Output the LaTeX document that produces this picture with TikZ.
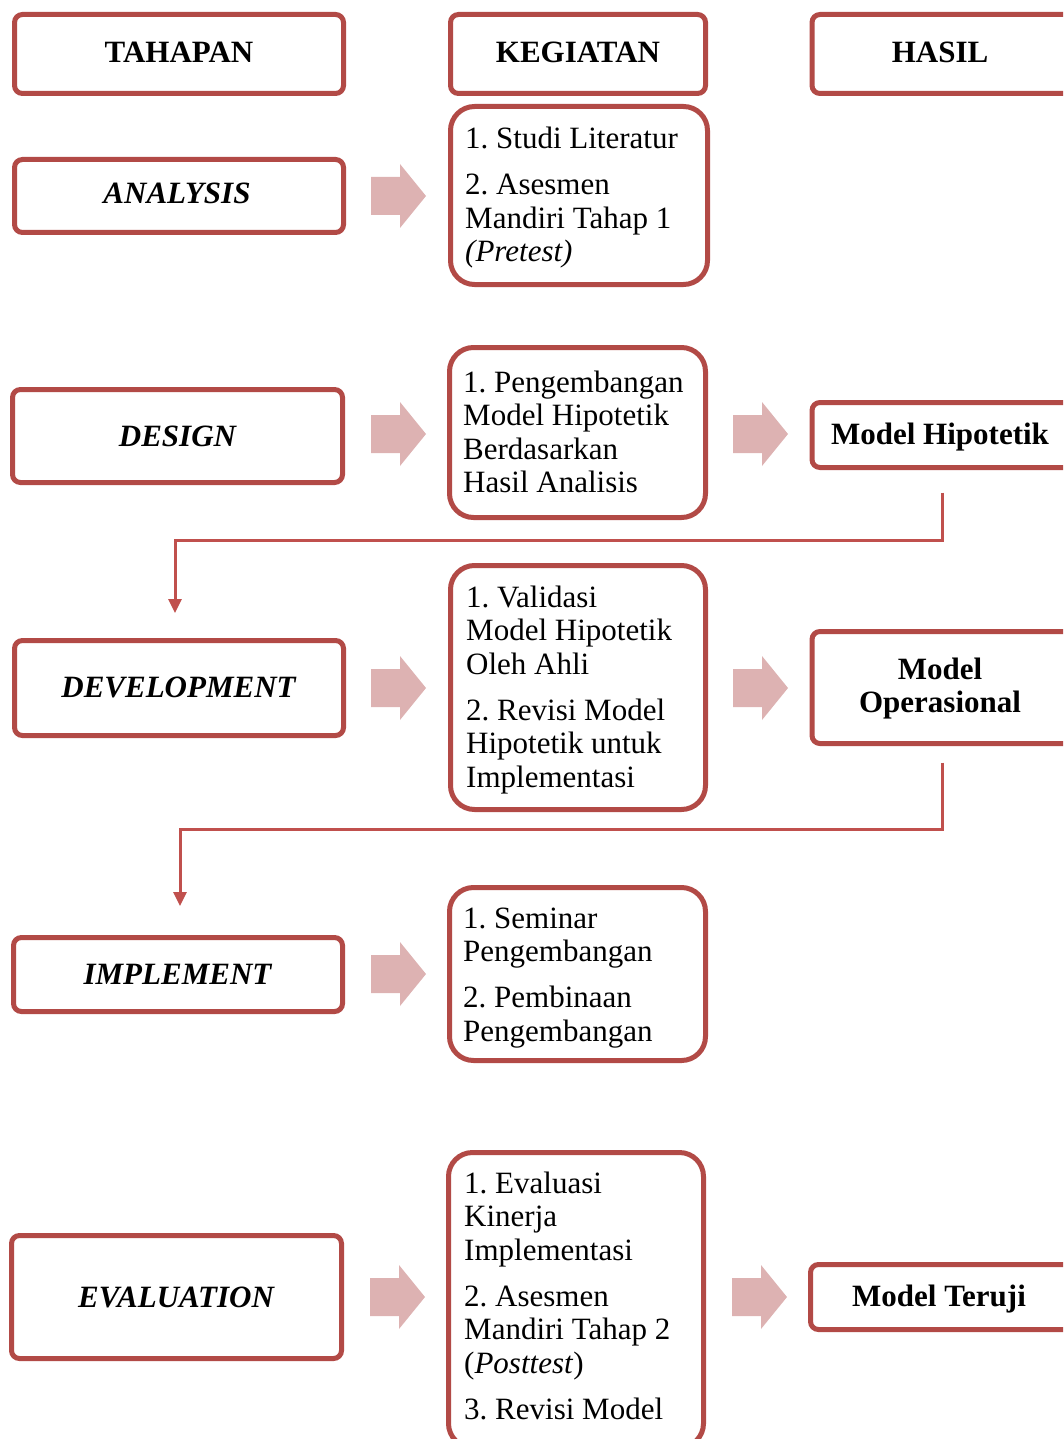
\documentclass[tikz,border=0pt]{standalone}
\usepackage{fontspec}
\setmainfont{Liberation Serif}
\usetikzlibrary{arrows.meta}
\definecolor{bord}{RGB}{178,74,70}
\definecolor{connc}{RGB}{192,80,77}
\definecolor{pinkarr}{RGB}{221,178,178}
\frenchspacing
\begin{document}
\begin{tikzpicture}[x=1pt,y=-1pt,
 box/.style={draw=bord,line width=5pt,rounded corners=8pt,fill=white,inner sep=0pt},
 kbox/.style={box,rounded corners=24pt},
 btxt/.style={font=\fontsize{31}{34}\selectfont\bfseries,anchor=base,inner sep=0pt},
 itxt/.style={font=\fontsize{31}{34}\selectfont\bfseries\itshape,anchor=base,inner sep=0pt},
 ltxt/.style={font=\fontsize{31}{33.5}\selectfont,align=left,anchor=north west,inner sep=0pt},
 connector/.style={draw=connc,line width=3pt,-{Triangle[width=13pt,length=14pt]}},
 barrow/.pic={\fill[pinkarr] (0,-19) -- (29,-19) -- (29,-32) -- (55,0) -- (29,32) -- (29,19) -- (0,19) -- cycle;}
]
\useasboundingbox (0,0) rectangle (1063,1439);
\clip (0,0) rectangle (1063,1439);

% headers
\node[box,minimum width=329pt,minimum height=79pt] (tah) at (179,54) {};
\node[box,minimum width=255pt,minimum height=79pt] (keg) at (578,54) {};
\node[box,minimum width=260pt,minimum height=79pt] (has) at (942,54) {};
\node[btxt] (tahT) at (179,63) {TAHAPAN};
\node[btxt] (kegT) at (578,63) {KEGIATAN};
\node[btxt] (hasT) at (940,63) {HASIL};

% column 1
\node[box,minimum width=329pt,minimum height=73pt] (ana) at (179,196) {};
\node[box,minimum width=330pt,minimum height=93pt] (des) at (177.5,436) {};
\node[box,minimum width=329pt,minimum height=95pt] (dev) at (179,688) {};
\node[box,minimum width=329pt,minimum height=74pt] (imp) at (178,974.5) {};
\node[box,minimum width=330pt,minimum height=123pt] (eva) at (176.5,1297) {};
\node[itxt] (anaT) at (177,204) {ANALYSIS};
\node[itxt] (desT) at (177.5,446) {DESIGN};
\node[itxt] (devT) at (178.5,697) {DEVELOPMENT};
\node[itxt] (impT) at (177.5,984) {IMPLEMENT};
\node[itxt] (evaT) at (176,1307) {EVALUATION};

% column 2
\node[kbox,minimum width=257pt,minimum height=178pt] (k1) at (579,195.5) {};
\node[kbox,minimum width=256pt,minimum height=170pt] (k2) at (577.5,432.5) {};
\node[kbox,minimum width=255pt,minimum height=244pt] (k3) at (578,687.5) {};
\node[kbox,minimum width=256pt,minimum height=173pt] (k4) at (577.5,974) {};
\node[kbox,minimum width=255pt,minimum height=295pt] (k5) at (576,1300) {};
\node[ltxt] (k1T) at (465,124.9) {\strut 1. Studi Literatur\\[12.5pt]2. Asesmen\\Mandiri Tahap 1\\\textit{(Pretest)}};
\node[ltxt] (k2T) at (463,368.5) {\strut 1. Pengembangan\\Model Hipotetik\\Berdasarkan\\Hasil Analisis};
\node[ltxt] (k3T) at (466,583.5) {\strut 1. Validasi\\Model Hipotetik\\Oleh Ahli\\[12.5pt]2. Revisi Model\\Hipotetik untuk\\Implementasi};
\node[ltxt] (k4T) at (463,904.5) {\strut 1. Seminar\\Pengembangan\\[12.5pt]2. Pembinaan\\Pengembangan};
\node[ltxt] (k5T) at (464,1169.5) {\strut 1. Evaluasi\\Kinerja\\Implementasi\\[12.5pt]2. Asesmen\\Mandiri Tahap 2\\(\textit{Posttest})\\[12.5pt]3. Revisi Model};

% column 3
\node[box,minimum width=260pt,minimum height=65pt] (hip) at (942,435) {};
\node[box,minimum width=260pt,minimum height=112pt] (ops) at (942,687.5) {};
\node[box,minimum width=262pt,minimum height=65pt] (ter) at (941.5,1297) {};
\node[btxt] (hipT) at (940,444) {Model Hipotetik};
\node[font=\fontsize{31}{33}\selectfont\bfseries,align=center,anchor=north,inner sep=0pt] (opsT) at (940,656.5) {\strut Model\\Operasional};
\node[btxt] (terT) at (939,1306) {Model Teruji};

% block arrows
\pic at (371,196) {barrow};
\pic at (371,434) {barrow};
\pic at (733,434) {barrow};
\pic at (371,688) {barrow};
\pic at (733,688) {barrow};
\pic at (371,974) {barrow};
\pic at (370,1297) {barrow};
\pic at (732,1297) {barrow};

% connectors
\coordinate (e1) at (175,613);
\coordinate (e2) at (180,906);
\draw[connector] ([yshift=-22.5pt]hip.south) -- ++(0,48) -| (e1);
\draw[connector] ([yshift=-16.5pt]ops.south) -- ++(0,67) -| (e2);
\end{tikzpicture}
\end{document}
